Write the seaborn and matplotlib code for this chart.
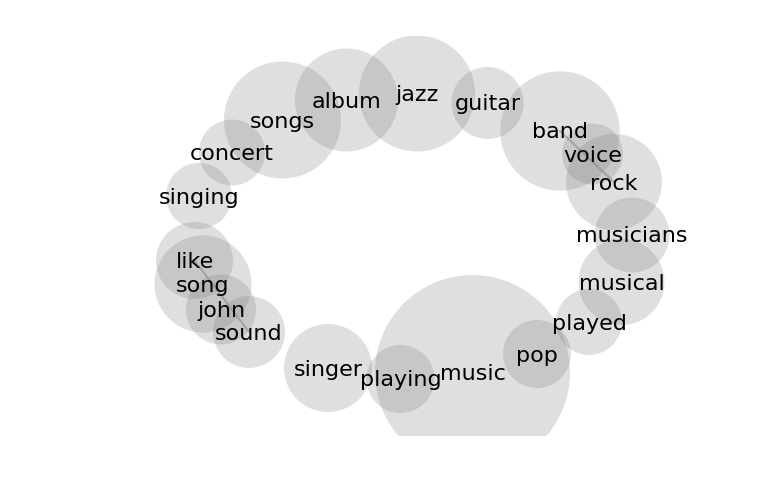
import numpy as np
import pandas as pd
import matplotlib.pyplot as plt
import seaborn as sns

sns.set_theme(style="white")
plt.rcParams['font.family'] = ['DejaVu Sans']

# bubble positions / radii (pixel-like units, y measured upward)
words = ['music', 'singer', 'playing', 'pop', 'played', 'musical', 'musicians',
         'rock', 'voice', 'band', 'guitar', 'jazz', 'album', 'songs',
         'concert', 'singing', 'like', 'song', 'john', 'sound']
xs = [472.5, 328, 400.5, 537, 589, 621.5, 632,
      614, 592.5, 560, 487.5, 417, 346.5, 282.5,
      232, 199, 194.5, 203, 221, 249]
ys = [63.5, 68, 57, 82, 114, 154, 201,
      254, 282, 305, 333, 342.5, 336, 316,
      283.5, 240, 175.5, 152, 126.5, 104]
rs = [97.5, 44, 34, 34, 33, 43, 37.5,
      48, 30.5, 59.7, 36, 58, 51.5, 58.5,
      33, 33, 38.5, 48.5, 35, 36]

links = [('like', 'sound'), ('band', 'rock')]

df = pd.DataFrame({'word': words, 'x': xs, 'y': ys, 'r': rs})
# marker area in points^2 (dpi 100 -> 0.72 pt per pixel)
df['s'] = (2 * df['r'] * 0.72) ** 2

fig = plt.figure(figsize=(7.68, 5), dpi=100)
ax = fig.add_axes([0, 64 / 500, 1, 400 / 500])

sns.scatterplot(data=df, x='x', y='y', s=df['s'], color='gray', alpha=0.25,
                linewidth=0, legend=False, ax=ax)

pos = df.set_index('word')
for a, b in links:
    ax.plot([pos.loc[a, 'x'], pos.loc[b, 'x']], [pos.loc[a, 'y'], pos.loc[b, 'y']],
            color='gray', alpha=0.5, lw=1.5)

for _, row in df.iterrows():
    ax.text(row['x'], row['y'] - 1.5, row['word'], ha='center', va='center',
            fontsize=16, color='black')

ax.set_xlim(0, 768)
ax.set_ylim(0, 400)
ax.axis('off')

fig.savefig('out.png', dpi=100)
